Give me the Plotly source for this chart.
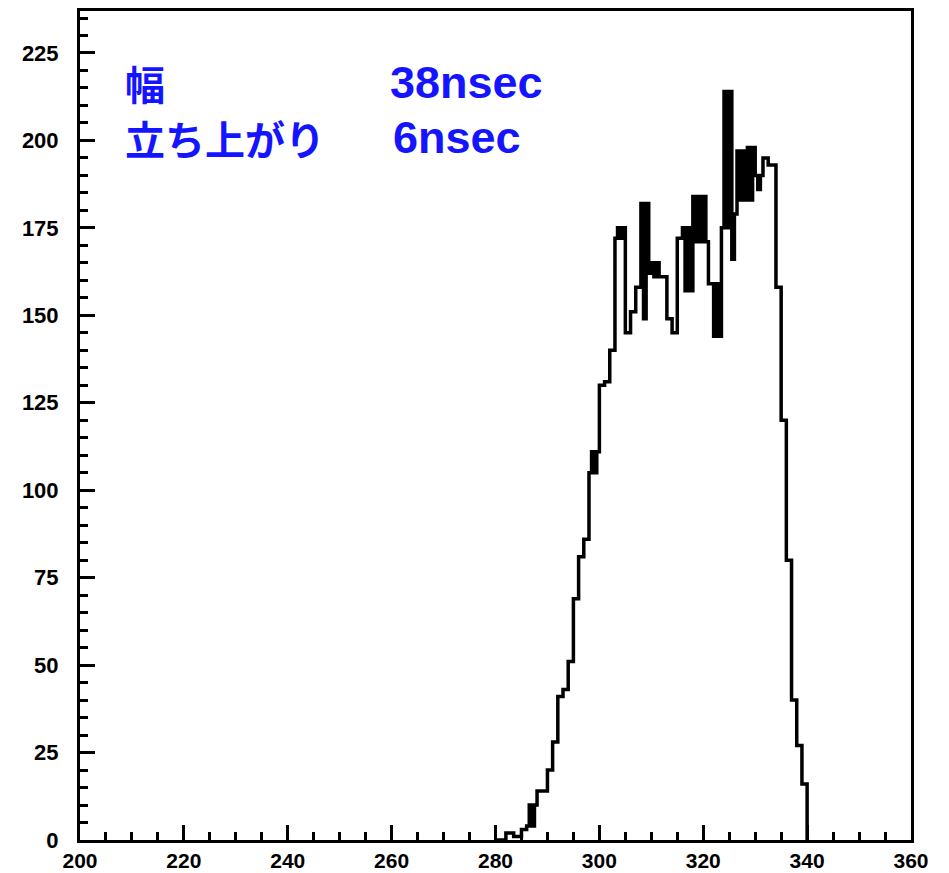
import numpy as np
import plotly.graph_objects as go

# Histogram data: counts in half-unit bins starting at 280
bin_start = 280.0
bin_width = 0.5
counts = [
    0, 0,   0, 0,   2, 2,   2, 1,   1, 1,        # 280-284
    3, 3,   4, 10,  4, 10,  14, 14, 14, 14,      # 285-289
    20, 20, 28, 28, 41, 41, 43, 43, 51, 51,      # 290-294
    69, 69, 81, 81, 86, 86, 105, 111, 105, 111,  # 295-299
    130, 130, 131, 131, 140, 140, 172, 175, 172, 175,  # 300-304
    145, 145, 151, 151, 158, 158, 182, 149, 182, 162,  # 305-309
    165, 161, 165, 161, 161, 161, 149, 149, 145, 145,  # 310-314
    172, 172, 175, 157, 175, 157, 184, 171, 184, 171,  # 315-319
    184, 171, 159, 159, 144, 159, 144, 175, 214, 175,  # 320-324
    214, 166, 179, 197, 183, 197, 183, 198, 183, 198,  # 325-329
    190, 186, 190, 195, 195, 193, 193, 193, 158, 158,  # 330-334
    120, 120, 80, 80, 40, 40, 27, 27, 16, 16,          # 335-339
]

x_range = [200, 360]
y_range = [0, 237]
x_major_ticks = [200, 220, 240, 260, 280, 300, 320, 340, 360]
y_major_ticks = [0, 25, 50, 75, 100, 125, 150, 175, 200, 225]

label_lines = [("幅", "38nsec"), ("立ち上がり", "6nsec")]

edges = bin_start + bin_width * np.arange(len(counts) + 1)
xs = [edges[0]] + list(edges)
ys = [0] + counts + [0]

fig = go.Figure()
fig.add_trace(go.Scatter(
    x=xs, y=ys, mode="lines", line=dict(shape="hv", color="black", width=3.5),
    showlegend=False, hoverinfo="skip",
))

ytickfont = dict(family="Liberation Sans, Arial, sans-serif", size=22, color="black", weight="bold")
xtickfont = dict(family="Liberation Sans, Arial, sans-serif", size=21, color="black", weight="bold")

fig.update_xaxes(
    range=x_range, tickvals=x_major_ticks, ticktext=[str(v) for v in x_major_ticks],
    ticks="inside", ticklen=15, tickwidth=3, tickcolor="black",
    minor=dict(dtick=5, tick0=200, ticks="inside", ticklen=8, tickwidth=3, tickcolor="black"),
    showline=True, linecolor="black", linewidth=3, mirror=True, automargin=False,
    showgrid=False, zeroline=False, tickfont=xtickfont, ticklabelstandoff=0,
)
fig.update_yaxes(
    range=y_range, tickvals=y_major_ticks, ticktext=[str(v) for v in y_major_ticks],
    ticks="inside", ticklen=15, tickwidth=3, tickcolor="black",
    minor=dict(dtick=5, tick0=0, ticks="inside", ticklen=8, tickwidth=3, tickcolor="black"),
    showline=True, linecolor="black", linewidth=3, mirror=True, automargin=False,
    showgrid=False, zeroline=False, tickfont=ytickfont, ticklabelstandoff=14,
)

# page body has an 8px margin; figure placed at (8, 8)
OFF = 8
W, H = 949 - OFF, 873 - OFF
L, T = 80 - OFF, 11 - OFF
R = W - (911 - OFF)
B = H - (840 - OFF)
pw, ph = W - L - R, H - T - B

def px_to_paper(px, py):
    # px, py are page pixel coordinates
    fx, fy = px - OFF, py - OFF
    return (fx - L) / pw, (H - B - fy) / ph

blue = "#1414ff"
jp_font = dict(family="Noto Sans CJK JP", size=40, color=blue, weight="bold")
en_font = dict(family="Liberation Sans, Arial, sans-serif", size=45, color=blue, weight="bold")
rows_y = [83, 138]
for (jp, val), py in zip(label_lines, rows_y):
    xp, yp = px_to_paper(123, py)
    fig.add_annotation(x=xp, y=yp, xref="paper", yref="paper", text=jp, showarrow=False,
                       xanchor="left", yanchor="middle", font=jp_font)
    xp2 = px_to_paper(388 if val.startswith("38") else 391, py)[0]
    fig.add_annotation(x=xp2, y=yp, xref="paper", yref="paper", text=val, showarrow=False,
                       xanchor="left", yanchor="middle", font=en_font)

fig.update_layout(
    width=W, height=H, margin=dict(l=L, r=R, t=T, b=B, autoexpand=False),
    paper_bgcolor="white", plot_bgcolor="white",
)

fig.write_html("out.html")
